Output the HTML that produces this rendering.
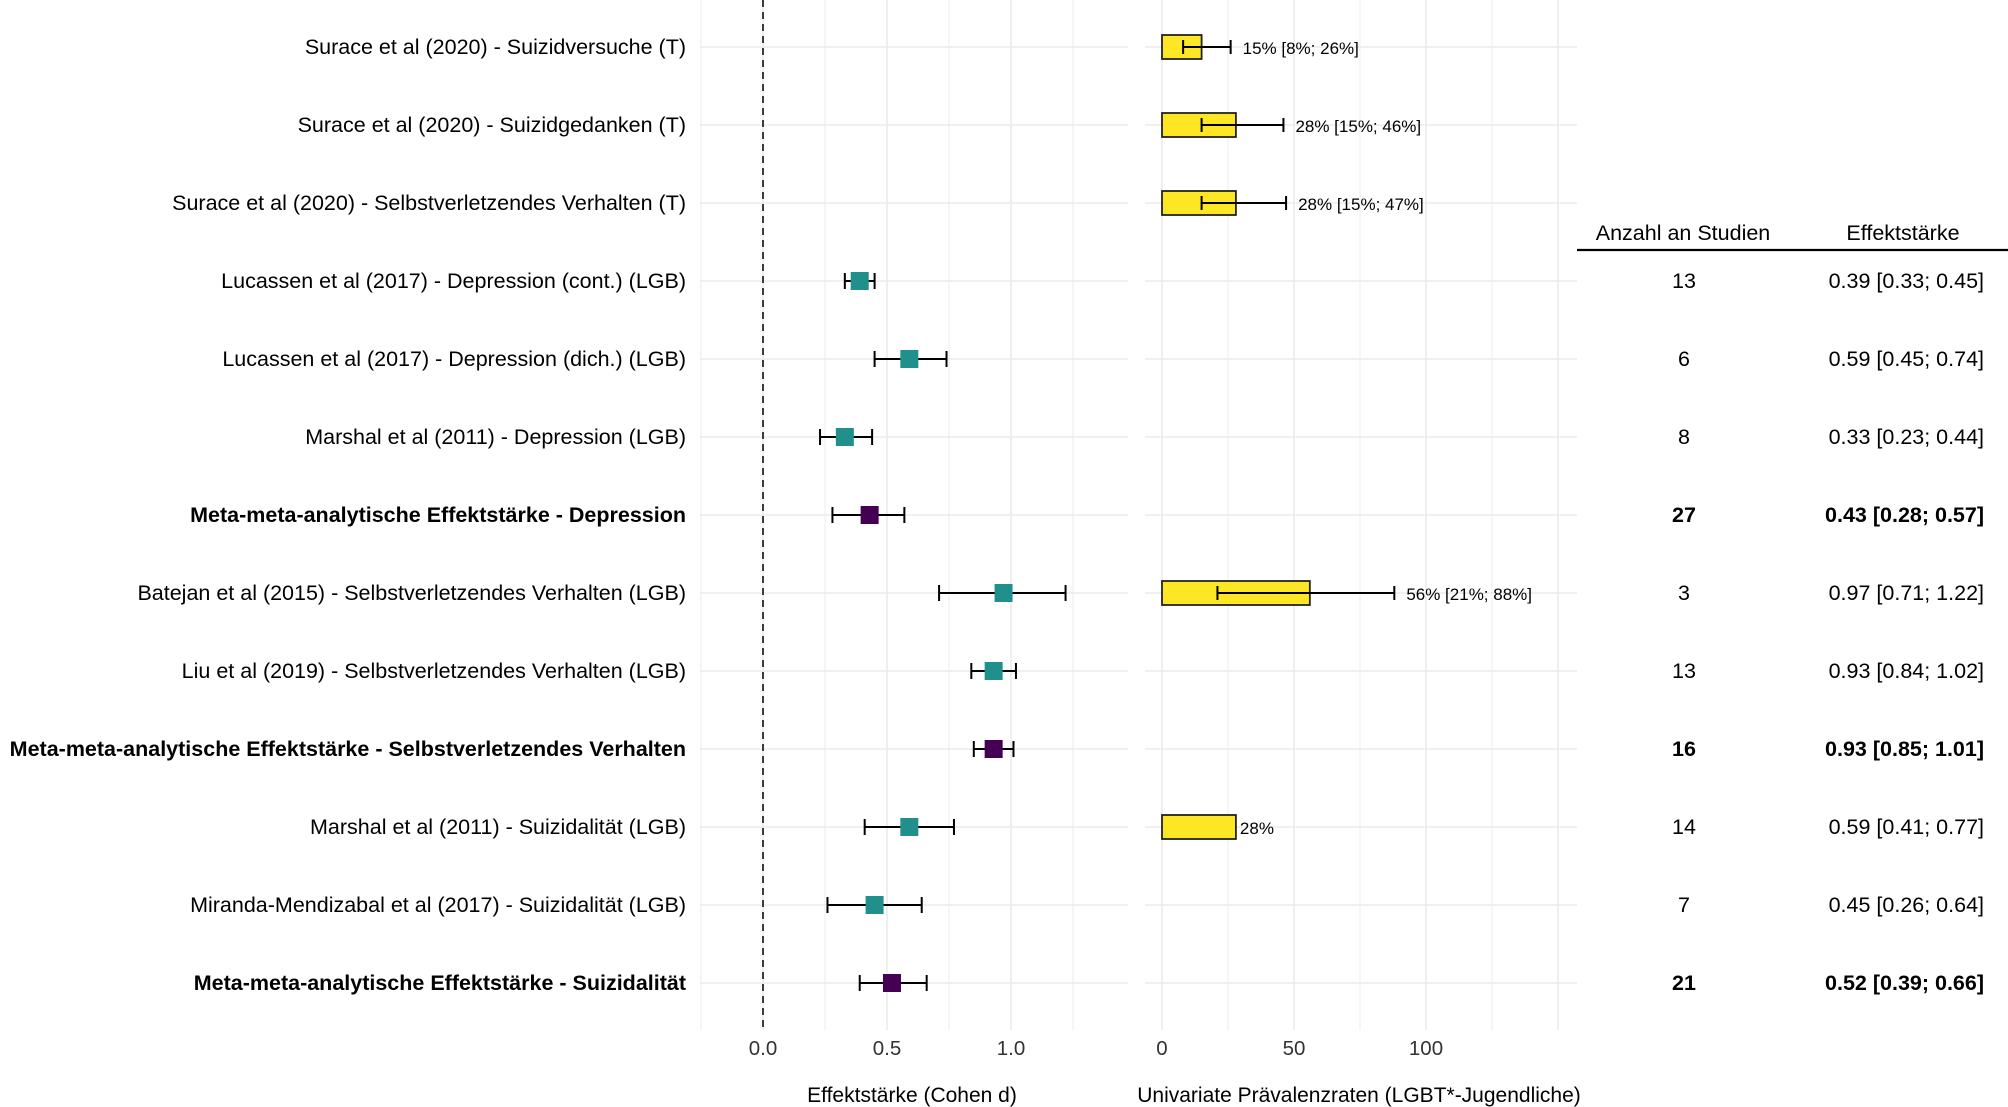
<!DOCTYPE html>
<html><head><meta charset="utf-8"><style>
body{margin:0;background:#fff}
svg{display:block;font-family:"Liberation Sans",Arial,sans-serif}
</style></head><body>
<svg id="chart" width="2008" height="1107" viewBox="0 0 2008 1107" xmlns="http://www.w3.org/2000/svg"></svg>
<script>
const labels = ["Surace et al (2020) - Suizidversuche (T)","Surace et al (2020) - Suizidgedanken (T)","Surace et al (2020) - Selbstverletzendes Verhalten (T)","Lucassen et al (2017) - Depression (cont.) (LGB)","Lucassen et al (2017) - Depression (dich.) (LGB)","Marshal et al (2011) - Depression (LGB)","Meta-meta-analytische Effektstärke - Depression","Batejan et al (2015) - Selbstverletzendes Verhalten (LGB)","Liu et al (2019) - Selbstverletzendes Verhalten (LGB)","Meta-meta-analytische Effektstärke - Selbstverletzendes Verhalten","Marshal et al (2011) - Suizidalität (LGB)","Miranda-Mendizabal et al (2017) - Suizidalität (LGB)","Meta-meta-analytische Effektstärke - Suizidalität"];
const isMeta = [0,0,0,0,0,0,1,0,0,1,0,0,1];
const effEst = [null,null,null,0.39,0.59,0.33,0.43,0.97,0.93,0.93,0.59,0.45,0.52];
const effLo  = [null,null,null,0.33,0.45,0.23,0.28,0.71,0.84,0.85,0.41,0.26,0.39];
const effHi  = [null,null,null,0.45,0.74,0.44,0.57,1.22,1.02,1.01,0.77,0.64,0.66];
const nStudies = [null,null,null,13,6,8,27,3,13,16,14,7,21];
const prev   = [15,28,28,null,null,null,null,56,null,null,28,null,null];
const prevLo = [8,15,15,null,null,null,null,21,null,null,null,null,null];
const prevHi = [26,46,47,null,null,null,null,88,null,null,null,null,null];
const effTicks = [0,0.5,1.0];
const effTickLabels = ["0.0","0.5","1.0"];
const prevTicks = [0,50,100];

const NS="http://www.w3.org/2000/svg";
const svg=document.getElementById('chart');
function el(tag,attrs,parent){const e=document.createElementNS(NS,tag);for(const k in attrs)e.setAttribute(k,attrs[k]);(parent||svg).appendChild(e);return e;}
const yRow=i=>47+78*i;
const xEff=v=>763+248*v;
const xPrev=v=>1162+2.64*v;
const L0=700,L1=1128,R0=1145,R1=1577,PB=1030;

for(let v=-0.25;v<=1.26;v+=0.25){const l=el('line',{x1:xEff(v),x2:xEff(v),y1:0,y2:PB,stroke:'#ebebeb','stroke-width':Math.abs(v*2-Math.round(v*2))<1e-6?1.6:0.9});}
for(let v=0;v<=150;v+=25){const l=el('line',{x1:xPrev(v),x2:xPrev(v),y1:0,y2:PB,stroke:'#ebebeb','stroke-width':v%50===0?1.6:0.9});}
labels.forEach((t,i)=>{
  const y=yRow(i);
  const g1=el('line',{x1:L0,x2:L1,y1:y,y2:y,stroke:'#ebebeb','stroke-width':1.6});
  
  const g2=el('line',{x1:R0,x2:R1,y1:y,y2:y,stroke:'#ebebeb','stroke-width':1.6});
  
});
const z=el('line',{x1:xEff(0),x2:xEff(0),y1:0,y2:PB,stroke:'#000','stroke-width':1.5,'stroke-dasharray':'7,5'});


labels.forEach((t,i)=>{
  const y=yRow(i);
  const lab=el('text',{x:686,y:y+7,'text-anchor':'end','font-size':21.5,'font-weight':isMeta[i]?'bold':'normal',fill:'#000'});
  lab.textContent=t;
  if(effEst[i]!==null){
    const g=el('g',{});
    el('line',{x1:xEff(effLo[i]),x2:xEff(effHi[i]),y1:y,y2:y,stroke:'#000','stroke-width':2},g);
    el('line',{x1:xEff(effLo[i]),x2:xEff(effLo[i]),y1:y-8,y2:y+8,stroke:'#000','stroke-width':2},g);
    el('line',{x1:xEff(effHi[i]),x2:xEff(effHi[i]),y1:y-8,y2:y+8,stroke:'#000','stroke-width':2},g);
    el('rect',{x:xEff(effEst[i])-9,y:y-9,width:18,height:18,fill:isMeta[i]?'#440154':'#21908C'},g);
    const n=el('text',{x:1684,y:y+7,'text-anchor':'middle','font-size':21.5,'font-weight':isMeta[i]?'bold':'normal'});
    n.textContent=nStudies[i];
    const e=el('text',{x:1984,y:y+7,'text-anchor':'end','font-size':21.5,'font-weight':isMeta[i]?'bold':'normal'});
    e.textContent=effEst[i].toFixed(2)+' ['+effLo[i].toFixed(2)+'; '+effHi[i].toFixed(2)+']';
    
  }
  if(prev[i]!==null){
    const g=el('g',{});
    el('rect',{x:xPrev(0),y:y-12,width:xPrev(prev[i])-xPrev(0),height:24,fill:'#FDE725',stroke:'#222','stroke-width':1.8},g);
    let end=xPrev(prev[i]),txt=prev[i]+'%';
    if(prevLo[i]!==null){
      el('line',{x1:xPrev(prevLo[i]),x2:xPrev(prevHi[i]),y1:y,y2:y,stroke:'#000','stroke-width':2},g);
      el('line',{x1:xPrev(prevLo[i]),x2:xPrev(prevLo[i]),y1:y-7,y2:y+7,stroke:'#000','stroke-width':2},g);
      el('line',{x1:xPrev(prevHi[i]),x2:xPrev(prevHi[i]),y1:y-7,y2:y+7,stroke:'#000','stroke-width':2},g);
      end=Math.max(end,xPrev(prevHi[i]))+12;
      txt+=' ['+prevLo[i]+'%; '+prevHi[i]+'%]';
    } else end+=4;
    const pt=el('text',{x:end,y:y+7,'font-size':17,fill:'#000'},g);pt.textContent=txt;
  }
});
effTicks.forEach((v,k)=>{const t=el('text',{x:xEff(v),y:1055,'text-anchor':'middle','font-size':20.5,fill:'#333'});t.textContent=effTickLabels[k];});
prevTicks.forEach(v=>{const t=el('text',{x:xPrev(v),y:1055,'text-anchor':'middle','font-size':20.5,fill:'#333'});t.textContent=v;});
const ax1=el('text',{x:912,y:1102,'text-anchor':'middle','font-size':21});ax1.textContent='Effektstärke (Cohen d)';
const ax2=el('text',{x:1359,y:1102,'text-anchor':'middle','font-size':21});ax2.textContent='Univariate Prävalenzraten (LGBT*-Jugendliche)';
const h1=el('text',{x:1683,y:240,'text-anchor':'middle','font-size':21.5});h1.textContent='Anzahl an Studien';
const h2=el('text',{x:1903,y:240,'text-anchor':'middle','font-size':21.5});h2.textContent='Effektstärke';
const hl=el('line',{x1:1577,x2:2008,y1:250,y2:250,stroke:'#000','stroke-width':2.2});
</script>
</body></html>
